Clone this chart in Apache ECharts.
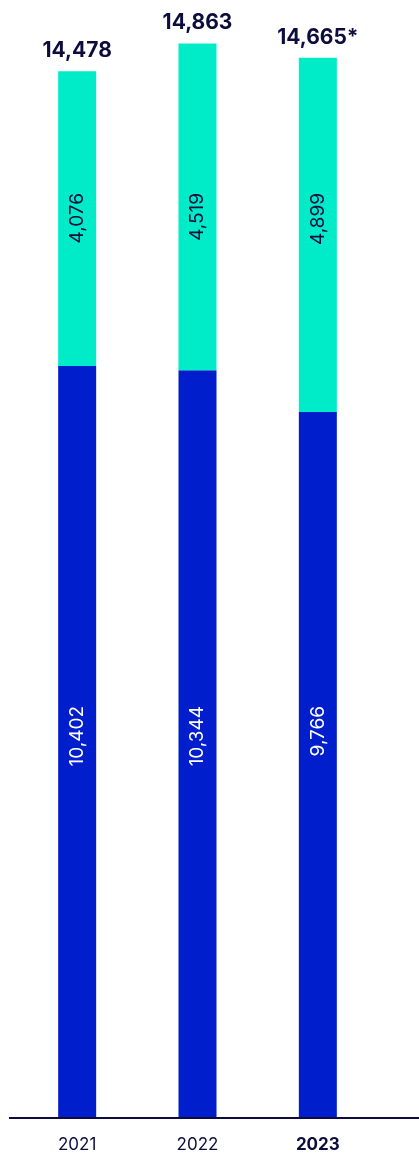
<!DOCTYPE html>
<html>
<head>
<meta charset="utf-8">
<style>
  html, body { margin: 0; padding: 0; background: #ffffff; }
  #chart { width: 419px; height: 1155px; }
</style>
<script src="https://cdn.jsdelivr.net/npm/echarts@6/dist/echarts.min.js"></script>
</head>
<body>
<div id="chart"></div>
<script>
const years = ['2021', '2022', '2023'];
const lowerValues = [10402, 10344, 9766];
const upperValues = [4076, 4519, 4899];
const totals = [14478, 14863, 14665];
const totalSuffix = ['', '', '*'];

const NAVY = '#0c0c3e';
const BLUE = '#001ecc';
const TEAL = '#00ebc8';
const FONT = 'Inter, "Noto Sans", sans-serif';

// value-axis heights at which the rotated in-bar labels end (layout constants)
const LOWER_LABEL_END = 5700;
const UPPER_LABEL_END = 12795;

const fmt = v => v.toLocaleString('en-US');

const chart = echarts.init(document.getElementById('chart'), null, { renderer: 'canvas' });
const gridBottom = 37;

const inBarLabel = (color) => ({
  show: true,
  position: 'inside',
  rotate: 90,
  align: 'right',
  verticalAlign: 'middle',
  color: color,
  opacity: 1,
  fontSize: 19,
  fontFamily: FONT,
  formatter: p => fmt(p.value[2])
});

chart.setOption({
  animation: false,
  backgroundColor: '#ffffff',
  textStyle: { fontFamily: FONT },
  grid: { left: 17, right: 41, top: 33.5, bottom: gridBottom, containLabel: false },
  xAxis: {
    type: 'category',
    data: years,
    axisLine: { show: false },
    axisTick: { show: false },
    axisLabel: {
      margin: 18,
      fontSize: 17,
      color: NAVY,
      fontFamily: FONT,
      formatter: (v, i) => i === years.length - 1 ? '{b|' + v + '}' : v,
      rich: { b: { fontWeight: 'bold', fontSize: 17, color: NAVY, fontFamily: FONT } }
    }
  },
  yAxis: {
    type: 'value',
    min: 0,
    max: 15000,
    show: false,
    splitLine: { show: false }
  },
  series: [
    {
      type: 'bar',
      stack: 'total',
      barWidth: 38,
      data: lowerValues,
      itemStyle: { color: BLUE }
    },
    {
      type: 'bar',
      stack: 'total',
      barWidth: 38,
      data: upperValues,
      itemStyle: { color: TEAL }
    },
    {
      type: 'bar',
      stack: 'total',
      barWidth: 38,
      data: totals.map(() => 0),
      itemStyle: { color: 'transparent' },
      label: {
        show: true,
        position: 'top',
        distance: 10,
        color: NAVY,
        fontSize: 21,
        fontWeight: 'bold',
        fontFamily: FONT,
        formatter: p => fmt(totals[p.dataIndex]) + totalSuffix[p.dataIndex]
      }
    },
    {
      type: 'scatter',
      symbolSize: 0,
      silent: true,
      z: 10,
      itemStyle: { opacity: 1 },
      data: years.map((y, i) => [i, LOWER_LABEL_END, lowerValues[i]]),
      label: inBarLabel('#ffffff')
    },
    {
      type: 'scatter',
      symbolSize: 0,
      silent: true,
      z: 10,
      itemStyle: { opacity: 1 },
      data: years.map((y, i) => [i, UPPER_LABEL_END, upperValues[i]]),
      label: inBarLabel(NAVY)
    }
  ],
  graphic: [
    {
      type: 'line',
      shape: { x1: 9, y1: 1155 - gridBottom, x2: 419, y2: 1155 - gridBottom },
      style: { stroke: NAVY, lineWidth: 2 },
      z: 100
    }
  ]
});
</script>
</body>
</html>
